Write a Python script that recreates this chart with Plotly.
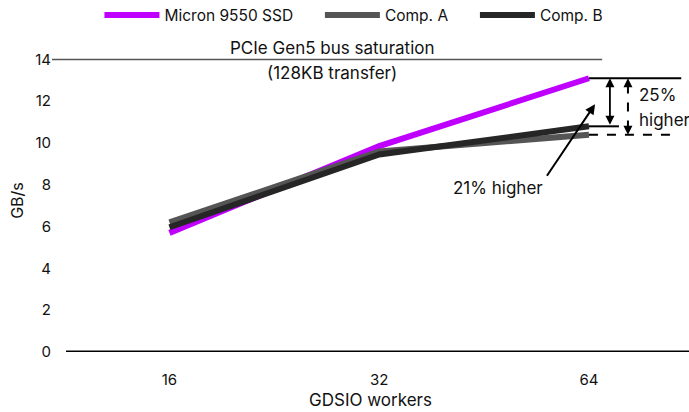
import plotly.graph_objects as go

workers = ["16", "32", "64"]
micron = [5.7, 9.85, 13.1]
comp_a = [6.2, 9.6, 10.4]
comp_b = [5.97, 9.45, 10.8]
y_ticks = [0, 2, 4, 6, 8, 10, 12, 14]

FONT = "Inter"
xs = list(range(len(workers)))
NB = "\u00a0" * 5

fig = go.Figure()
series = [
    ("Micron 9550 SSD" + NB, micron, "#BF00FF"),
    ("Comp. A" + NB, comp_a, "#555555"),
    ("Comp. B", comp_b, "#262626"),
]
for name, vals, col in series:
    fig.add_trace(go.Scatter(x=xs, y=vals, mode="lines", name=name,
                             line=dict(color=col, width=6)))

last = xs[-1]
# horizontal reference lines at the 64-worker values
fig.add_shape(type="line", x0=last, x1=last + 0.44, y0=micron[-1], y1=micron[-1],
              line=dict(color="black", width=2))
fig.add_shape(type="line", x0=last, x1=last + 0.143, y0=comp_b[-1], y1=comp_b[-1],
              line=dict(color="black", width=2))
fig.add_shape(type="line", x0=last, x1=last + 0.396, y0=comp_a[-1], y1=comp_a[-1],
              line=dict(color="black", width=2, dash="dash"))

# solid double arrow (21%)
xa = last + 0.10
fig.add_annotation(x=xa, y=micron[-1], ax=xa, ay=comp_b[-1], xref="x", yref="y",
                   axref="x", ayref="y", text="", showarrow=True, arrowhead=2,
                   arrowside="end+start", arrowwidth=1.8, arrowcolor="black", arrowsize=1)
# dashed double arrow (25%)
xd = last + 0.186
fig.add_shape(type="line", x0=xd, x1=xd, y0=micron[-1] - 0.3, y1=comp_a[-1] + 0.3,
              line=dict(color="black", width=2, dash="dash"))
fig.add_annotation(x=xd, y=micron[-1], ax=xd, ay=micron[-1] - 0.35, xref="x", yref="y",
                   axref="x", ayref="y", text="", showarrow=True, arrowhead=2,
                   arrowwidth=1.8, arrowcolor="black", arrowsize=1)
fig.add_annotation(x=xd, y=comp_a[-1], ax=xd, ay=comp_a[-1] + 0.35, xref="x", yref="y",
                   axref="x", ayref="y", text="", showarrow=True, arrowhead=2,
                   arrowwidth=1.8, arrowcolor="black", arrowsize=1)
fig.add_annotation(x=last + 0.229, y=12.3, xref="x", yref="y", text="25%",
                   showarrow=False, xanchor="left", font=dict(family=FONT, size=17, color="#111"))
fig.add_annotation(x=last + 0.229, y=11.1, xref="x", yref="y", text="higher",
                   showarrow=False, xanchor="left", font=dict(family=FONT, size=17, color="#111"))

# 21% pointer
fig.add_annotation(x=last + 0.029, y=11.86, ax=last - 0.205, ay=8.36, xref="x", yref="y",
                   axref="x", ayref="y", text="", showarrow=True, arrowhead=2,
                   arrowwidth=2, arrowcolor="black", arrowsize=1)
fig.add_annotation(x=last - 0.434, y=7.84, xref="x", yref="y", text="21% higher",
                   showarrow=False, font=dict(family=FONT, size=17, color="#111"))

# PCIe saturation line
fig.add_shape(type="line", xref="paper", x0=0, x1=0.8637, yref="y", y0=14, y1=14,
              line=dict(color="#555555", width=1.5))
fig.add_annotation(x=0.775, y=1.002, xref="x", yref="paper", yanchor="middle",
                   text="PCIe Gen5 bus saturation",
                   showarrow=False, font=dict(family=FONT, size=17, color="#111"))
fig.add_annotation(x=0.775, y=13.34, xref="x", yref="y", yanchor="middle",
                   text="(128KB transfer)",
                   showarrow=False, font=dict(family=FONT, size=17, color="#111"))

# zero axis line
fig.add_shape(type="line", xref="paper", x0=0.022, x1=1, yref="y", y0=0, y1=0,
              line=dict(color="black", width=3))

fig.update_layout(
    width=689, height=412,
    margin=dict(l=52, r=0, t=49, b=60, autoexpand=False),
    plot_bgcolor="white", paper_bgcolor="white",
    font=dict(family=FONT, size=15, color="#111"),
    showlegend=True,
    legend=dict(orientation="h", x=0.474, xanchor="center", y=1.111, yanchor="middle",
                itemwidth=55, font=dict(family=FONT, size=15.5, color="#111"),
                bgcolor="rgba(0,0,0,0)"),
    xaxis=dict(range=[-0.56, 2.477], tickvals=xs, ticktext=workers, showgrid=False,
               zeroline=False, showline=False, ticks="", ticklabelstandoff=17,
               automargin=False,
               title=dict(text="GDSIO workers", font=dict(family=FONT, size=17), standoff=6)),
    yaxis=dict(range=[0, 14.5], tickvals=y_ticks, showgrid=False, zeroline=False,
               showline=False, ticks="", automargin=False,
               title=dict(text="GB/s", font=dict(family=FONT, size=16), standoff=7)),
)

fig.write_html("out.html", config={"displayModeBar": False},
               post_script="document.body.style.margin='0';")
